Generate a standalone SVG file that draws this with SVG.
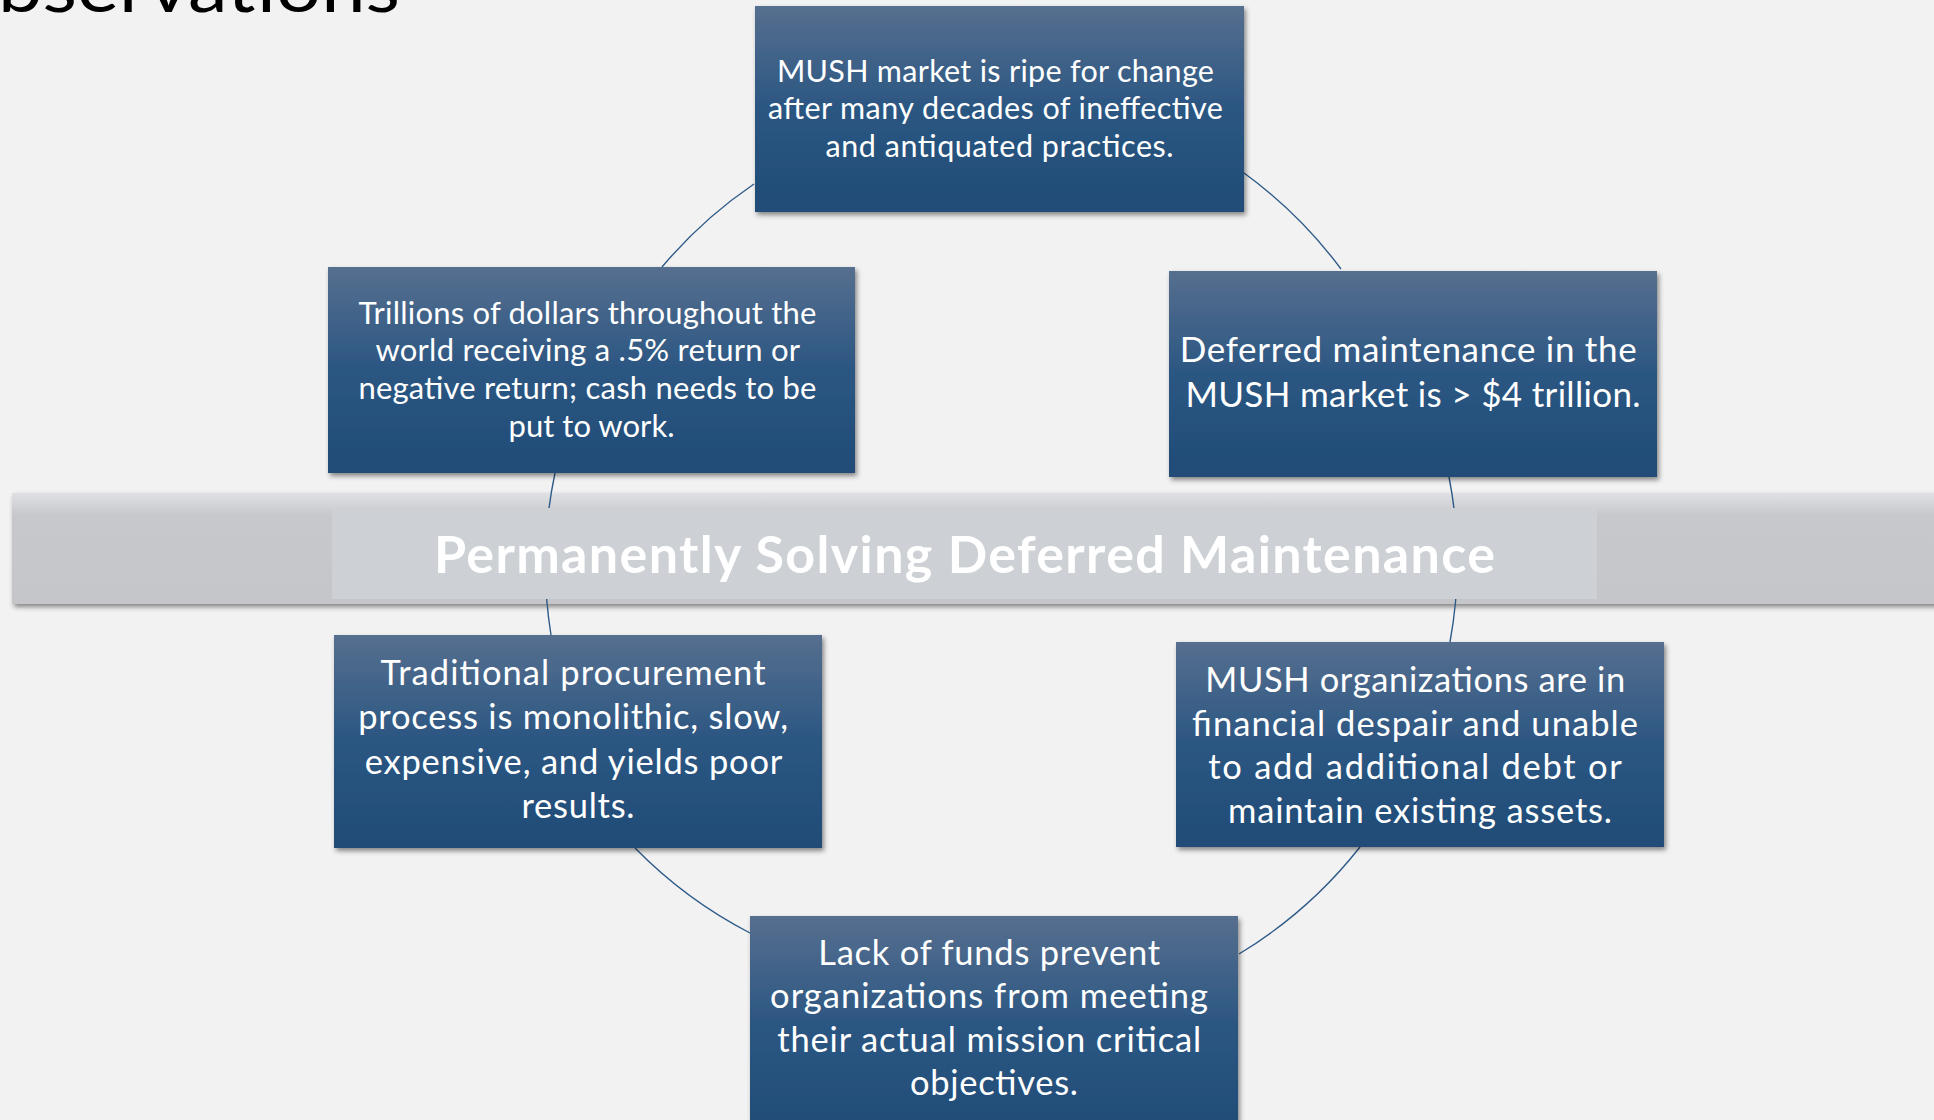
<svg xmlns="http://www.w3.org/2000/svg" width="1934" height="1120" viewBox="0 0 1934 1120">
  <defs>
    <linearGradient id="boxFill" x1="0" y1="0" x2="0" y2="1">
      <stop offset="0" stop-color="#566f8f"/>
      <stop offset="0.5" stop-color="#2b5682"/>
      <stop offset="1" stop-color="#204c77"/>
    </linearGradient>
    <linearGradient id="bandFill" x1="0" y1="0" x2="0" y2="1">
      <stop offset="0" stop-color="#dfe1e4"/>
      <stop offset="0.2" stop-color="#c6c8cc"/>
      <stop offset="1" stop-color="#c4c6ca"/>
    </linearGradient>
    <filter id="shadow" x="-5%" y="-5%" width="112%" height="120%">
      <feDropShadow dx="2" dy="3" stdDeviation="2.5" flood-color="#000" flood-opacity="0.45"/>
    </filter>
    <style>
      .box { fill: url(#boxFill); filter: url(#shadow); }
      .lbl { font-family: Lato, "Open Sans", "Liberation Sans", sans-serif; fill: #ffffff; text-anchor: middle; }
      .arc { fill: none; stroke: #2f5b88; stroke-width: 1.4; }
    </style>
  </defs>

  <rect width="1934" height="1120" fill="#f2f2f2"/>

  <!-- page title, running off the top-left corner -->
  <text x="-2" y="12" font-family="Lato, 'Liberation Sans', sans-serif" font-weight="400" font-size="70" fill="#000" textLength="402" lengthAdjust="spacingAndGlyphs">bservations</text>

  <!-- horizontal band behind the central theme -->
  <g id="band">
    <rect x="12" y="493" width="1930" height="111" fill="url(#bandFill)" filter="url(#shadow)"/>
  </g>

  <!-- cycle connectors -->
  <g id="connectors">
    <path class="arc" d="M1244,173 A452,448 0 0 1 1341,269"/>
    <path class="arc" d="M1449,477 A455,448 0 0 1 1450,642"/>
    <path class="arc" d="M1360,847 A452,448 0 0 1 1239,954"/>
    <path class="arc" d="M750,933 A452,448 0 0 1 635,848"/>
    <path class="arc" d="M551,635 A455,448 0 0 1 555,473"/>
    <path class="arc" d="M662,267 A452,448 0 0 1 754,184"/>
  </g>

  <!-- central theme -->
  <g id="theme">
    <rect x="332" y="508" width="1265" height="91" fill="#cdd0d4"/>
    <text x="964.5" y="573" font-family="Lato, 'Liberation Sans', sans-serif" font-weight="700" font-size="52" fill="#ffffff" text-anchor="middle" textLength="1061">Permanently Solving Deferred Maintenance</text>
  </g>

  <g id="node-top">
    <rect class="box" x="755" y="6" width="489" height="206"/>
    <text class="lbl" font-size="30.5">
      <tspan x="999.5" y="82" textLength="437">MUSH market is ripe for change</tspan>
      <tspan x="999.5" y="119" textLength="455">after many decades of ineffective</tspan>
      <tspan x="999.5" y="157" textLength="348">and antiquated practices.</tspan>
    </text>
  </g>

  <g id="node-upper-left">
    <rect class="box" x="328" y="267" width="527" height="206"/>
    <text class="lbl" font-size="31">
      <tspan x="591.5" y="324" textLength="458">Trillions of dollars throughout the</tspan>
      <tspan x="591.5" y="361" textLength="424">world receiving a .5% return or</tspan>
      <tspan x="591.5" y="399" textLength="458">negative return; cash needs to be</tspan>
      <tspan x="591.5" y="437" textLength="166">put to work.</tspan>
    </text>
  </g>

  <g id="node-upper-right">
    <rect class="box" x="1169" y="271" width="488" height="206"/>
    <text class="lbl" font-size="35">
      <tspan x="1413" y="362" textLength="457">Deferred maintenance in the</tspan>
      <tspan x="1413" y="407" textLength="455">MUSH market is &gt; $4 trillion.</tspan>
    </text>
  </g>

  <g id="node-lower-left">
    <rect class="box" x="334" y="635" width="488" height="213"/>
    <text class="lbl" font-size="34.5">
      <tspan x="578" y="685" textLength="385">Traditional procurement</tspan>
      <tspan x="578" y="729" textLength="430">process is monolithic, slow,</tspan>
      <tspan x="578" y="774" textLength="417">expensive, and yields poor</tspan>
      <tspan x="578" y="818" textLength="113">results.</tspan>
    </text>
  </g>

  <g id="node-lower-right">
    <rect class="box" x="1176" y="642" width="488" height="205"/>
    <text class="lbl" font-size="34.5">
      <tspan x="1420" y="692" textLength="420">MUSH organizations are in</tspan>
      <tspan x="1420" y="736" textLength="446">financial despair and unable</tspan>
      <tspan x="1420" y="779" textLength="413">to add additional debt or</tspan>
      <tspan x="1420" y="823" textLength="384">maintain existing assets.</tspan>
    </text>
  </g>

  <g id="node-bottom">
    <rect class="box" x="750" y="916" width="488" height="220"/>
    <text class="lbl" font-size="34.5">
      <tspan x="994" y="965" textLength="342">Lack of funds prevent</tspan>
      <tspan x="994" y="1008" textLength="438">organizations from meeting</tspan>
      <tspan x="994" y="1052" textLength="424">their actual mission critical</tspan>
      <tspan x="994" y="1095" textLength="168">objectives.</tspan>
    </text>
  </g>
</svg>
